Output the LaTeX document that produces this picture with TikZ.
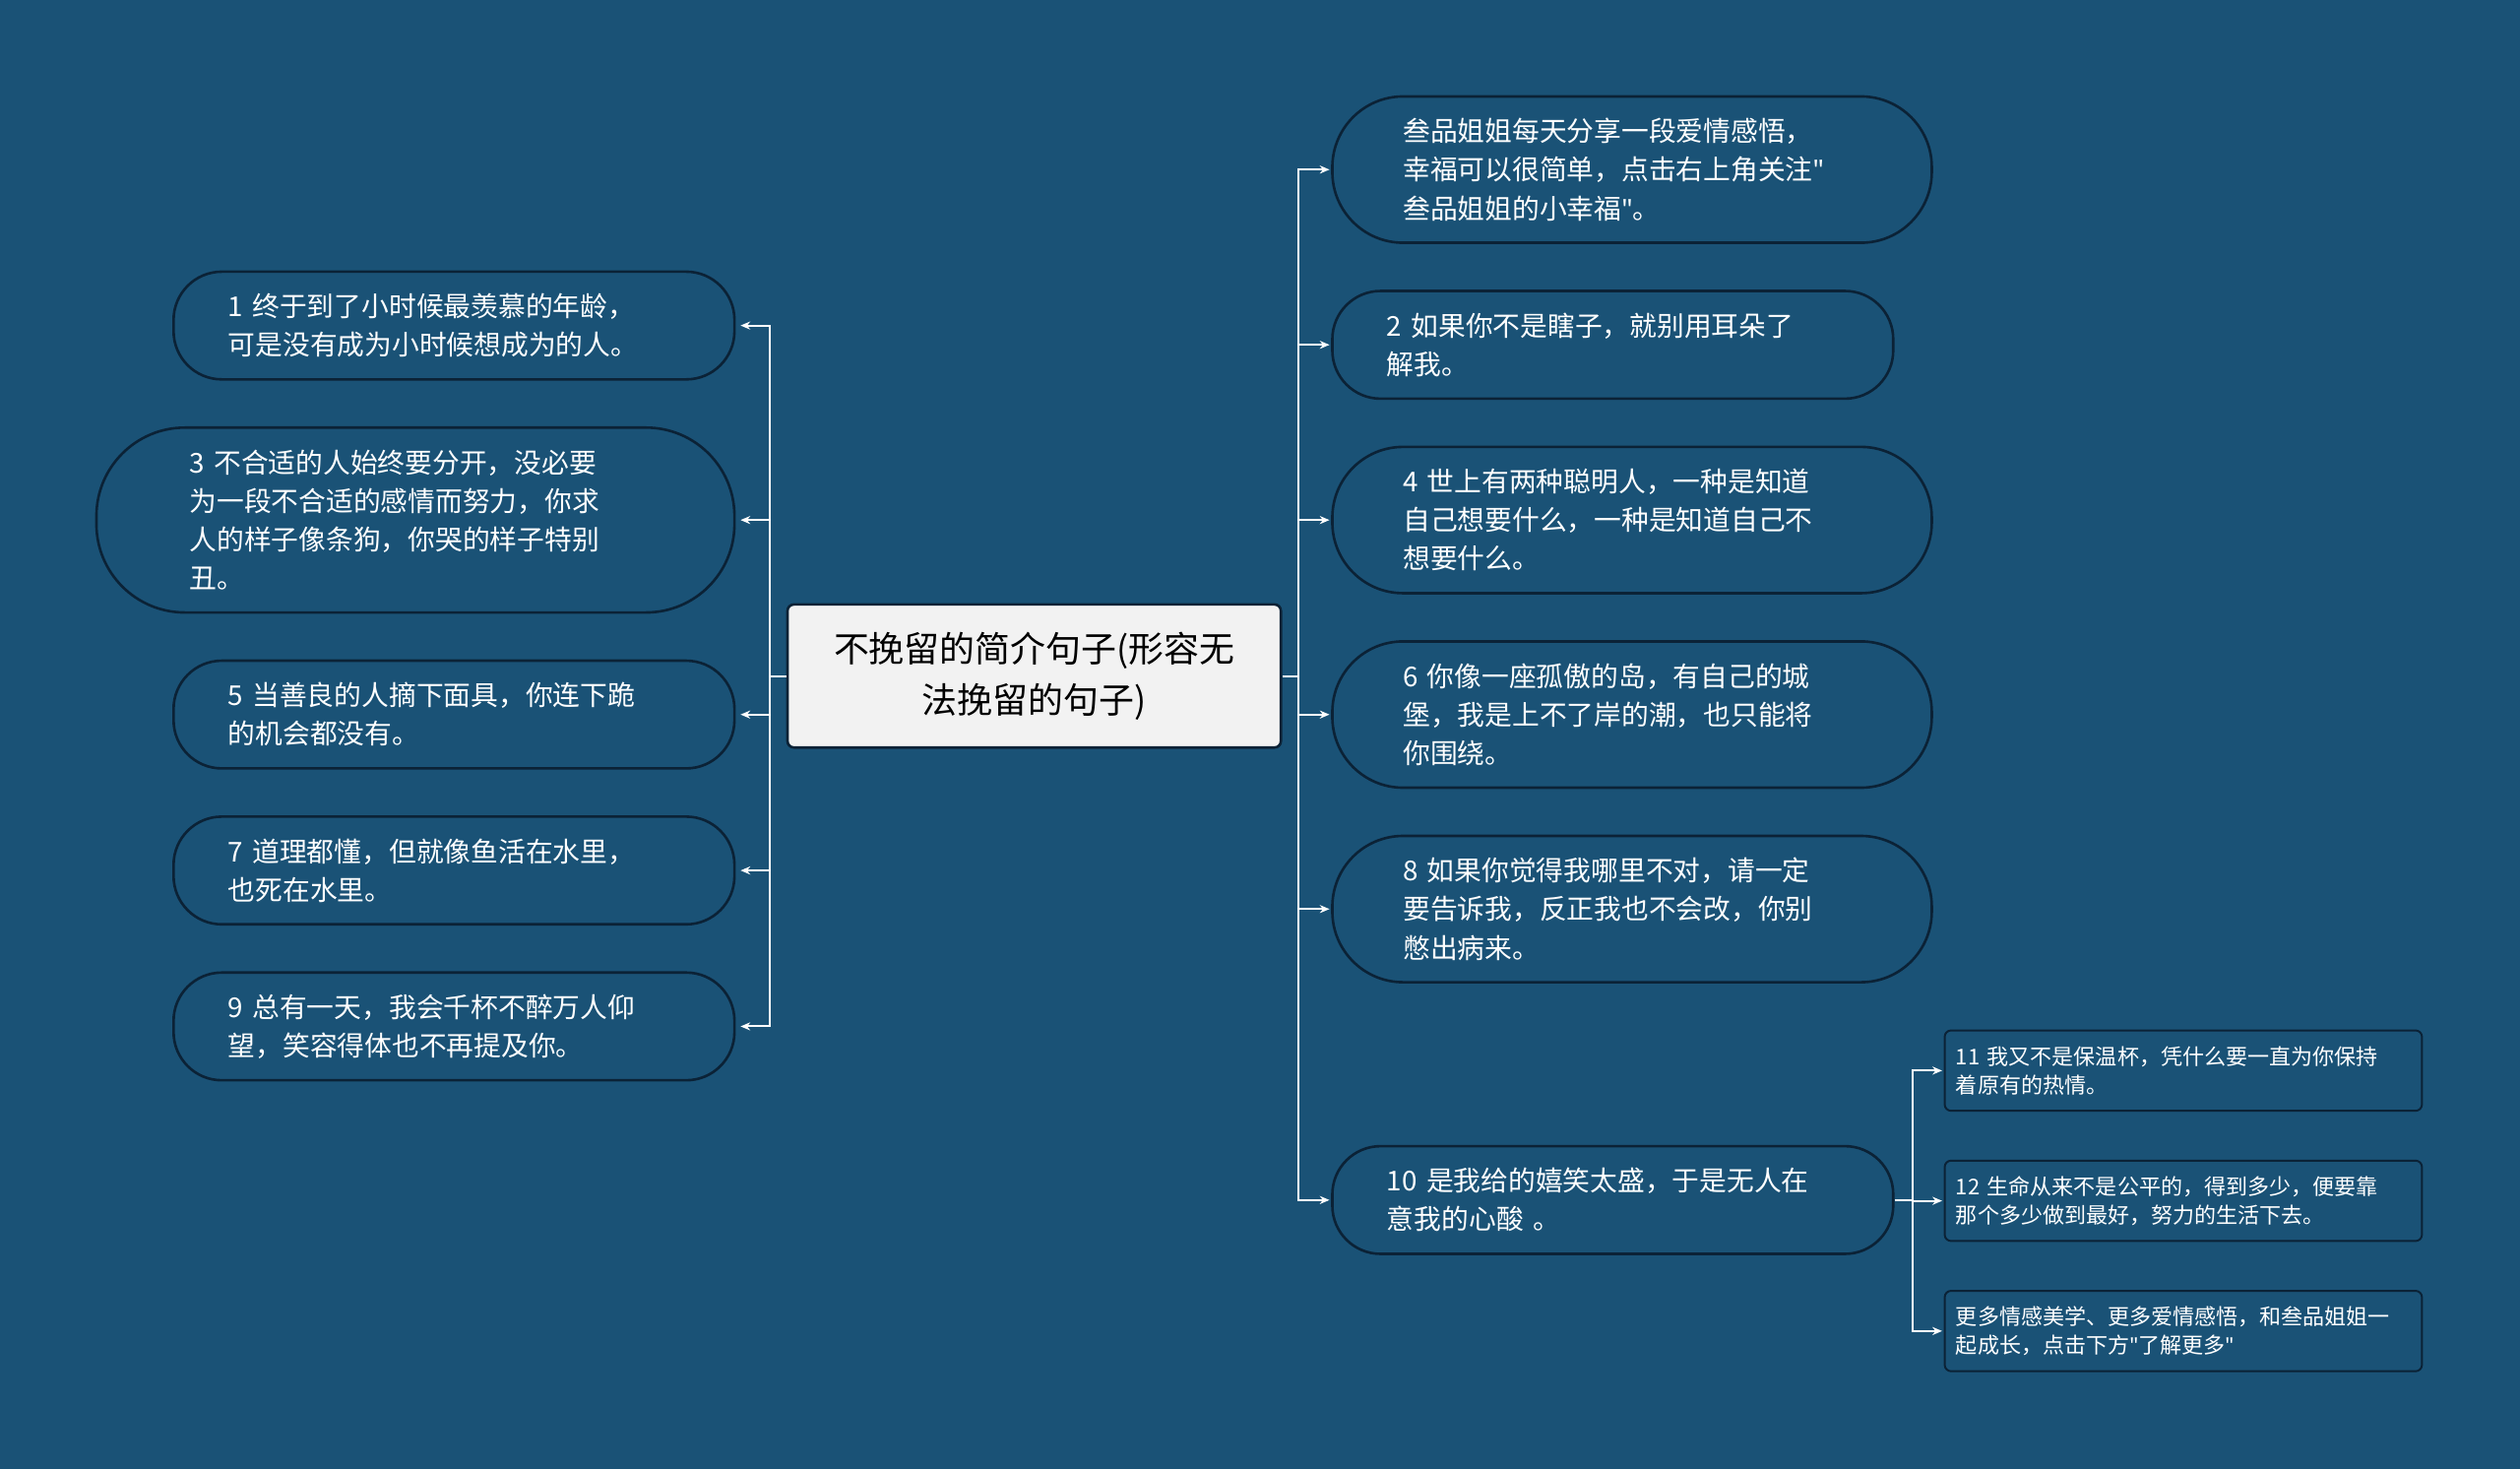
\documentclass[tikz,border=0pt]{standalone}
\usepackage{fontspec}
\setmainfont{Noto Sans CJK SC}
\newfontfamily\latf[Ligatures=NoCommon]{Noto Sans}
\usetikzlibrary{arrows.meta}
\definecolor{bg}{HTML}{1A5276}
\definecolor{edge}{HTML}{0B2236}
\newcommand{\qq}{{\latf\symbol{34}}}
\begin{document}
\begin{tikzpicture}[x=1pt,y=-1pt,
 leaf/.style={draw=edge,line width=1.6pt,fill=bg,text=white,font=\fontsize{17}{24}\selectfont,align=left,inner ysep=0pt,rounded corners=30pt},
 sub/.style={draw=edge,line width=1.2pt,fill=bg,text=white,font=\fontsize{13.5}{18}\selectfont,align=left,inner xsep=7pt,inner ysep=0pt,rounded corners=4pt,text width=283pt,minimum height=50pt},
 conn/.style={draw=white,line width=1.2pt,-{Stealth[length=6pt,width=5pt]}}]
\fill[bg] (0,0) rectangle (1568,914);
\useasboundingbox (0,0) rectangle (1568,914);
% center
\node[draw=edge,line width=1.6pt,fill=gray!10,rounded corners=4pt,minimum width=307pt,minimum height=89pt,align=center,font=\fontsize{22}{32}\selectfont] (c) at (643.5,420.5) {不挽留的简介句子(形容无\\法挽留的句子)};
% left
\node[leaf,text width=281pt,inner xsep=34pt,minimum height=67pt] (l1) at (282.5,202.5) {1 终于到了小时候最羡慕的年龄，\\可是没有成为小时候想成为的人。};
\node[leaf,text width=281pt,inner xsep=58pt,minimum height=115pt,rounded corners=55pt] (l3) at (258.5,323.5) {3 不合适的人始终要分开，没必要\\为一段不合适的感情而努力，你求\\人的样子像条狗，你哭的样子特别\\丑。};
\node[leaf,text width=281pt,inner xsep=34pt,minimum height=67pt] (l5) at (282.5,444.5) {5 当善良的人摘下面具，你连下跪\\的机会都没有。};
\node[leaf,text width=281pt,inner xsep=34pt,minimum height=67pt] (l7) at (282.5,541.5) {7 道理都懂，但就像鱼活在水里，\\也死在水里。};
\node[leaf,text width=281pt,inner xsep=34pt,minimum height=67pt] (l9) at (282.5,638.5) {9 总有一天，我会千杯不醉万人仰\\望，笑容得体也不再提及你。};
% right
\node[leaf,text width=285pt,inner xsep=44pt,minimum height=91pt,rounded corners=44pt] (r0) at (1015.5,105.5) {叁品姐姐每天分享一段爱情感悟，\\幸福可以很简单，点击右上角关注\qq\\叁品姐姐的小幸福\qq。};
\node[leaf,text width=281pt,inner xsep=34pt,minimum height=67pt] (r2) at (1003.5,214.5) {2 如果你不是瞎子，就别用耳朵了\\解我。};
\node[leaf,text width=285pt,inner xsep=44pt,minimum height=91pt,rounded corners=44pt] (r4) at (1015.5,323.5) {4 世上有两种聪明人，一种是知道\\自己想要什么，一种是知道自己不\\想要什么。};
\node[leaf,text width=285pt,inner xsep=44pt,minimum height=91pt,rounded corners=44pt] (r6) at (1015.5,444.5) {6 你像一座孤傲的岛，有自己的城\\堡，我是上不了岸的潮，也只能将\\你围绕。};
\node[leaf,text width=285pt,inner xsep=44pt,minimum height=91pt,rounded corners=44pt] (r8) at (1015.5,565.5) {8 如果你觉得我哪里不对，请一定\\要告诉我，反正我也不会改，你别\\憋出病来。};
\node[leaf,text width=281pt,inner xsep=34pt,minimum height=67pt] (r10) at (1003.5,746.5) {10 是我给的嬉笑太盛，于是无人在\\意我的心酸 。};
% sub
\node[sub] (s11) at (1358.5,666) {11 我又不是保温杯，凭什么要一直为你保持\\着原有的热情。};
\node[sub] (s12) at (1358.5,747) {12 生命从来不是公平的，得到多少，便要靠\\那个多少做到最好，努力的生活下去。};
\node[sub] (s13) at (1358.5,828) {更多情感美学、更多爱情感悟，和叁品姐姐一\\起成长，点击下方\qq 了解更多\qq};
% connectors
\coordinate (lt) at (479,420.5);
\draw[white,line width=1.2pt] (c.west) -- (lt);
\foreach \n in {l1,l3,l5,l7,l9} \draw[conn] (lt) |- ([xshift=3pt]\n.east);
\coordinate (rt) at (808,420.5);
\draw[white,line width=1.2pt] (c.east) -- (rt);
\foreach \n in {r0,r2,r4,r6,r8,r10} \draw[conn] (rt) |- ([xshift=-1pt]\n.west);
\coordinate (st) at (1190,746.5);
\draw[white,line width=1.2pt] (r10.east) -- (st);
\foreach \n in {s11,s12,s13} \draw[conn] (st) |- ([xshift=-1pt]\n.west);
\end{tikzpicture}
\end{document}
